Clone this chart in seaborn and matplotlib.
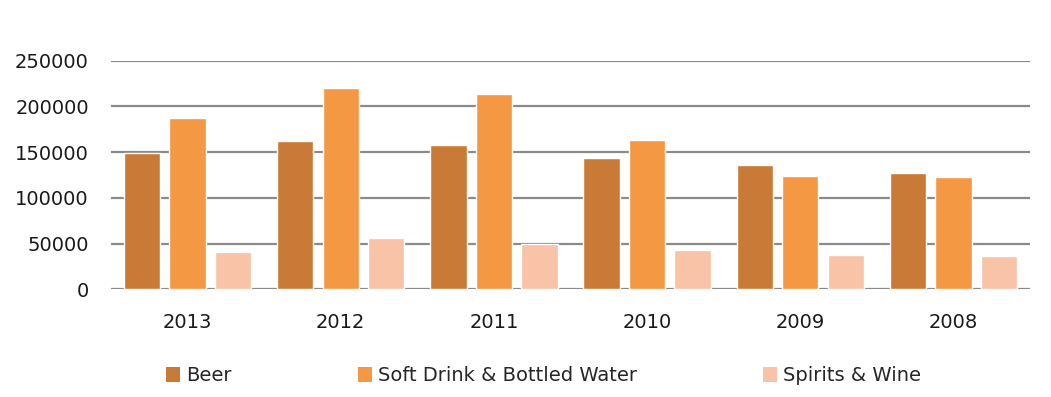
import numpy as np
import pandas as pd
import matplotlib
matplotlib.use('Agg')
import matplotlib.pyplot as plt
import seaborn as sns
from matplotlib.patches import Patch

# valores
years = ['2013', '2012', '2011', '2010', '2009', '2008']
beer = [149400, 162500, 157500, 143600, 135600, 127500]
soft_drink = [187000, 219800, 213600, 162900, 124200, 122800]
spirits = [40800, 56400, 49500, 43000, 37900, 36400]
series_names = ['Beer', 'Soft Drink & Bottled Water', 'Spirits & Wine']
colors = ['#C97A37', '#F59844', '#F8C3A6']

df = pd.DataFrame({
    'year': years * 3,
    'serie': [series_names[0]] * 6 + [series_names[1]] * 6 + [series_names[2]] * 6,
    'valor': beer + soft_drink + spirits,
})

sns.set_theme(style='white')
plt.rcParams['font.family'] = ['DejaVu Sans']

fig = plt.figure(figsize=(10.51, 3.97), dpi=100)
ax = fig.add_axes([111 / 1051, 1 - 289.3 / 397, (1030 - 111) / 1051, (289.3 - 60.7) / 397])

sns.barplot(data=df, x='year', y='valor', hue='serie', order=years,
            hue_order=series_names, palette=colors, width=0.89, gap=0.2,
            saturation=1, ax=ax, legend=False)

ax.set_ylim(0, 250000)
ax.set_xlim(-0.5, len(years) - 0.5)
ax.set_yticks(np.arange(0, 250001, 50000))
ax.yaxis.grid(True, color='#8a8a8a', linewidth=1.6)
ax.set_axisbelow(True)
for s in ax.spines.values():
    s.set_visible(False)
ax.set_xlabel('')
ax.set_ylabel('')
ax.tick_params(axis='y', length=0, pad=16, labelsize=14, labelcolor='#1a1a1a')
ax.tick_params(axis='x', length=0, pad=17, labelsize=14, labelcolor='#1a1a1a')

handles = [Patch(facecolor=c, edgecolor='none') for c in colors]
fig.legend(handles, series_names, loc='center', bbox_to_anchor=(0.517, 0.053),
           ncol=3, frameon=False, fontsize=14, handlelength=0.72, handleheight=0.8,
           handletextpad=0.3, columnspacing=6.5)

fig.savefig('out.png', dpi=100)
